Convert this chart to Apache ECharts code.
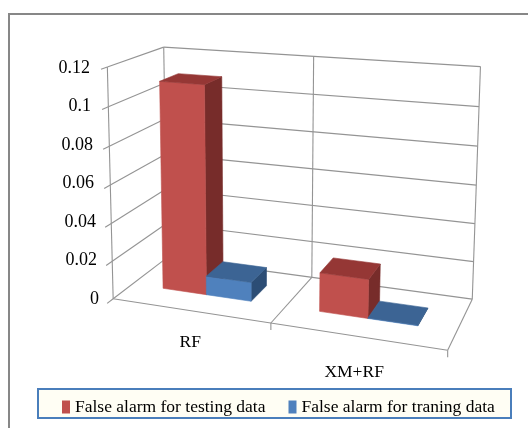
<!DOCTYPE html>
<html>
<head>
<meta charset="utf-8">
<script src="https://cdn.jsdelivr.net/npm/echarts@6/dist/echarts.min.js"></script>
<style>
  html, body { margin: 0; padding: 0; background: #ffffff; }
  #chart { width: 528px; height: 428px; }
</style>
</head>
<body>
<div id="chart"></div>
<script>
// ---- data ----
const categories = ['RF', 'XM+RF'];
const seriesNames = ['False alarm for testing data', 'False alarm for traning data'];
const testingValues = [0.11, 0.02];
const trainingValues = [0.01, 0.0003];
const valueTicks = [0, 0.02, 0.04, 0.06, 0.08, 0.1, 0.12];

// ---- layout & style ----
const Y_MAX = valueTicks[valueTicks.length - 1];
const FONT = '"Liberation Serif", "Times New Roman", serif';
const GRID = { left: 115, top: 68, width: 330, height: 231 };
const GRID_COLOR = '#949494';

// Corners of the 3-D plot box in normalised units (x: category axis, y: value, z: depth)
// and where they sit on the page; a perspective projection is fitted through them.
const BOX_CORNERS = [
  [[0, 0, 0], [115, 298]],
  [[0, 1, 0], [106, 67]],
  [[0, 1, 1], [165, 47]],
  [[0, 0, 1], [165, 260]],
  [[1, 1, 1], [480, 67]],
  [[1, 0, 1], [472, 299]],
  [[1, 0, 0], [448, 352]],
  [[0.5, 0, 0], [270, 322]],
  [[0.5, 0, 1], [313, 275]],
  [[0.5, 1, 1], [314, 56]]
];

// bar placement inside a category band, and depth range of the columns
const BAR_START = 0.207;
const BAR_WIDTH = 0.288;
const BAR_FRONT = 0.34;
const BAR_BACK = 0.69;

const FACE_COLORS = [
  { front: '#c0504d', top: '#953735', side: '#772c2a' },
  { front: '#4f81bd', top: '#3c6494', side: '#2c4d75' }
];

// ---- perspective projection (least-squares DLT) ----
function fitProjection(pairs) {
  const N = 11;
  const M = Array.from({ length: N }, () => new Array(N).fill(0));
  const r = new Array(N).fill(0);
  function addRow(row, val) {
    for (let i = 0; i < N; i++) {
      for (let j = 0; j < N; j++) M[i][j] += row[i] * row[j];
      r[i] += row[i] * val;
    }
  }
  pairs.forEach(([[X, Y, Z], [u, v]]) => {
    addRow([X, Y, Z, 1, 0, 0, 0, 0, -u * X, -u * Y, -u * Z], u);
    addRow([0, 0, 0, 0, X, Y, Z, 1, -v * X, -v * Y, -v * Z], v);
  });
  for (let c = 0; c < N; c++) {
    let p = c;
    for (let k = c + 1; k < N; k++) if (Math.abs(M[k][c]) > Math.abs(M[p][c])) p = k;
    [M[c], M[p]] = [M[p], M[c]];
    [r[c], r[p]] = [r[p], r[c]];
    for (let k = 0; k < N; k++) {
      if (k === c) continue;
      const f = M[k][c] / M[c][c];
      if (!f) continue;
      for (let j = c; j < N; j++) M[k][j] -= f * M[c][j];
      r[k] -= f * r[c];
    }
  }
  return r.map((val, i) => val / M[i][i]);
}
const PM = fitProjection(BOX_CORNERS);
function project(X, Y, Z) {
  const w = PM[8] * X + PM[9] * Y + PM[10] * Z + 1;
  return [
    (PM[0] * X + PM[1] * Y + PM[2] * Z + PM[3]) / w,
    (PM[4] * X + PM[5] * Y + PM[6] * Z + PM[7]) / w
  ];
}

// normalised value position through the value axis
function normY(api, v) {
  const y0 = api.coord([0, 0])[1];
  const y1 = api.coord([0, Y_MAX])[1];
  return (y0 - api.coord([0, v])[1]) / (y0 - y1);
}

function seg(a, b, color, width) {
  return {
    type: 'line',
    shape: { x1: a[0], y1: a[1], x2: b[0], y2: b[1] },
    style: { stroke: color || GRID_COLOR, lineWidth: width || 1.1 }
  };
}

// walls, floor, gridlines, ticks and category labels
function frameItem(params, api) {
  const cs = params.coordSys;
  const band = api.size([1, 0])[0];
  const children = [];
  valueTicks.forEach(t => {
    const y = normY(api, t);
    children.push(seg(project(0, y, 0), project(0, y, 1)));      // side wall
    children.push(seg(project(0, y, 1), project(1, y, 1)));      // back wall
    children.push(seg(project(0, y, 0), project(0, y, -0.1)));   // axis tick
  });
  // verticals
  children.push(seg(project(0, 0, 0), project(0, 1, 0)));
  children.push(seg(project(0, 0, 1), project(0, 1, 1)));
  const dividers = [];
  for (let i = 1; i < categories.length; i++) {
    dividers.push((api.coord([i, 0])[0] - band / 2 - cs.x) / cs.width);
  }
  dividers.forEach(x => {
    children.push(seg(project(x, 0, 1), project(x, 1, 1)));
    children.push(seg(project(x, 0, 0), project(x, 0, 1)));
    const p = project(x, 0, 0);
    children.push(seg(p, [p[0], p[1] + 7]));
  });
  children.push(seg(project(1, 0, 1), project(1, 1, 1)));
  // floor outline
  children.push(seg(project(0, 0, 0), project(1, 0, 0)));
  children.push(seg(project(1, 0, 0), project(1, 0, 1)));
  const pr = project(1, 0, 0);
  children.push(seg(pr, [pr[0], pr[1] + 7]));
  // category labels
  categories.forEach((c, i) => {
    const xc = (api.coord([i, 0])[0] - cs.x) / cs.width;
    const p = project(xc, -0.142, 0);
    children.push({
      type: 'text',
      style: {
        text: c, x: p[0] - 2 * i, y: p[1] + 2 * i, align: 'center', verticalAlign: 'middle',
        fontFamily: FONT, fontSize: 17.5, fill: '#000000'
      }
    });
  });
  return { type: 'group', children };
}

function poly(points, color) {
  return {
    type: 'polygon',
    shape: { points },
    style: { fill: color, stroke: color, lineWidth: 0.6 }
  };
}

function barItem(sIdx) {
  return function (params, api) {
    const cs = params.coordSys;
    const cat = api.value(0);
    const val = api.value(1);
    const band = api.size([1, 0])[0];
    const cx = api.coord([cat, 0])[0];
    const bandN = band / cs.width;
    const catLeft = (cx - band / 2 - cs.x) / cs.width;
    const x0 = catLeft + bandN * (BAR_START + BAR_WIDTH * sIdx);
    const x1 = x0 + bandN * BAR_WIDTH;
    const y = normY(api, val);
    const z0 = BAR_FRONT, z1 = BAR_BACK;
    const c = FACE_COLORS[sIdx];
    return {
      type: 'group',
      children: [
        poly([project(x1, 0, z0), project(x1, 0, z1), project(x1, y, z1), project(x1, y, z0)], c.side),
        poly([project(x0, 0, z0), project(x1, 0, z0), project(x1, y, z0), project(x0, y, z0)], c.front),
        poly([project(x0, y, z0), project(x1, y, z0), project(x1, y, z1), project(x0, y, z1)], c.top)
      ]
    };
  };
}

const richLabels = {};
valueTicks.forEach((t, i) => {
  richLabels['p' + i] = {
    fontFamily: FONT, fontSize: 18, color: '#000000',
    padding: [0, Math.round(9 * i / (valueTicks.length - 1)), 0, 0]
  };
});

const chart = echarts.init(document.getElementById('chart'), null, { renderer: 'canvas' });
chart.setOption({
  animation: false,
  backgroundColor: '#ffffff',
  grid: GRID,
  xAxis: { type: 'category', data: categories, show: false },
  yAxis: {
    type: 'value', min: 0, max: Y_MAX, interval: 0.02,
    axisLine: { show: false }, axisTick: { show: false }, splitLine: { show: false },
    axisLabel: {
      margin: 16,
      fontFamily: FONT, fontSize: 18, color: '#000000',
      formatter: (v, i) => '{p' + i + '|' + (+v.toFixed(2)) + '}',
      rich: richLabels
    }
  },
  legend: {
    data: seriesNames,
    left: 62, top: 398, padding: 0,
    itemWidth: 8, itemHeight: 13, itemGap: 23,
    icon: 'rect',
    textStyle: { fontFamily: FONT, fontSize: 17.5, color: '#000000' },
    z: 5
  },
  graphic: [
    {
      type: 'rect', z: 0, silent: true,
      shape: { x: 9, y: 14, width: 600, height: 500 },
      style: { fill: 'none', stroke: '#878787', lineWidth: 2 }
    },
    {
      type: 'rect', z: 1, silent: true,
      shape: { x: 38, y: 389, width: 473, height: 29 },
      style: { fill: '#fffef4', stroke: '#4a7ebb', lineWidth: 2 }
    }
  ],
  series: [
    { type: 'custom', name: 'frame', silent: true, clip: false, z: 1, data: [[0, 0]], renderItem: frameItem },
    {
      type: 'custom', name: seriesNames[0], clip: false, z: 2,
      itemStyle: { color: FACE_COLORS[0].front },
      data: categories.map((c, i) => [i, testingValues[i]]),
      renderItem: barItem(0)
    },
    {
      type: 'custom', name: seriesNames[1], clip: false, z: 3,
      itemStyle: { color: FACE_COLORS[1].front },
      data: categories.map((c, i) => [i, trainingValues[i]]),
      renderItem: barItem(1)
    }
  ]
});
</script>
</body>
</html>
